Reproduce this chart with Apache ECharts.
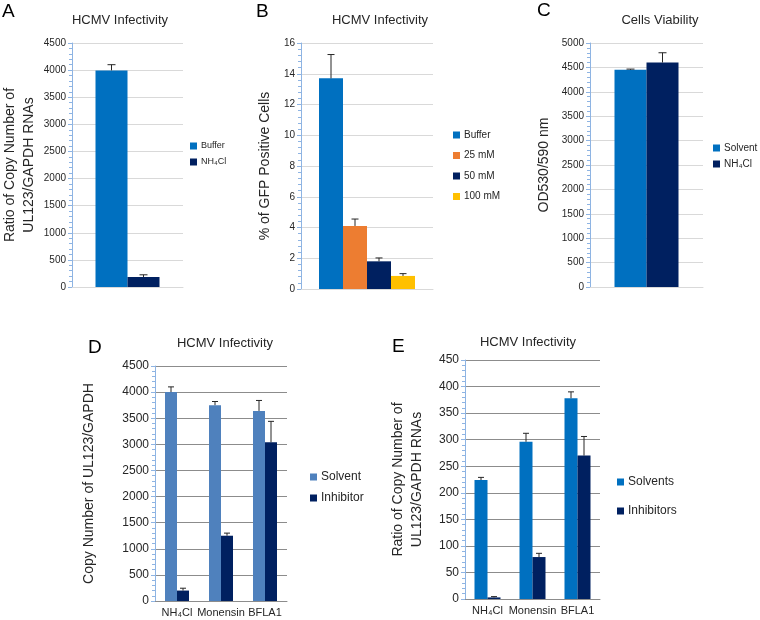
<!DOCTYPE html>
<html><head><meta charset="utf-8">
<script src="https://cdn.jsdelivr.net/npm/echarts@6/dist/echarts.min.js"></script>
<style>html,body{margin:0;padding:0;background:#fff}#c{width:760px;height:620px}</style>
</head><body><div id="c"></div>
<script>
// ---- data ----
const catsSingle = [''];
const aBuffer = [3995], aBufferErr = [105];
const aNH4 = [185], aNH4Err = [40];
const bBuffer = [13.7], bBufferErr = [1.55];
const b25 = [4.1], b25Err = [0.45];
const b50 = [1.8], b50Err = [0.22];
const b100 = [0.85], b100Err = [0.15];
const cSolvent = [4450], cSolventErr = [15];
const cNH4 = [4600], cNH4Err = [200];
const dCats = ['NH₄Cl', 'Monensin', 'BFLA1'];
const dSolvent = [4000, 3750, 3640], dSolventErr = [100, 70, 200];
const dInhib = [200, 1250, 3040], dInhibErr = [45, 50, 400];
const eCats = ['NH₄Cl', 'Monensin', 'BFLA1'];
const eSolvents = [224, 296, 378], eSolventsErr = [5, 16, 12];
const eInhib = [3, 79, 270], eInhibErr = [1.5, 7, 36];

// ---- styling ----
const FONT = '"Liberation Sans", Arial, sans-serif';
const BLUE = '#0070C0', NAVY = '#002060', ORANGE = '#ED7D31', YELLOW = '#FFC000', STEEL = '#4F81BD';

function errData(vals, errs) { return vals.map((v, i) => [i, v, errs[i]]); }
function errRender(offset, cap) {
  return function (params, api) {
    const c = api.value(0), v = api.value(1), e = api.value(2);
    const p0 = api.coord([c, v]);
    const p1 = api.coord([c, v + e]);
    const x = p0[0] + offset;
    const st = { stroke: '#262626', lineWidth: 1 };
    return { type: 'group', children: [
      { type: 'line', shape: { x1: x, y1: p0[1], x2: x, y2: p1[1] }, style: st },
      { type: 'line', shape: { x1: x - cap / 2, y1: p1[1], x2: x + cap / 2, y2: p1[1] }, style: st }
    ]};
  };
}
function errSeries(name, idx, vals, errs, offset, cap) {
  return { type: 'custom', name: name, xAxisIndex: idx, yAxisIndex: idx, z: 5, silent: true,
    renderItem: errRender(offset, cap), data: errData(vals, errs) };
}
function barSeries(name, idx, vals, color, w) {
  return { type: 'bar', name: name, xAxisIndex: idx, yAxisIndex: idx, data: vals, barWidth: w, barGap: '0%',
    itemStyle: { color: color } };
}
function yAx(idx, max, interval, name, nameGap, fs, nfs, splitColor) {
  return { type: 'value', gridIndex: idx, min: 0, max: max, interval: interval,
    name: name, nameLocation: 'middle', nameGap: nameGap,
    nameTextStyle: { fontFamily: FONT, fontSize: nfs, color: '#262626', lineHeight: nfs + 5 },
    axisLine: { show: true, lineStyle: { color: '#8EB4E3' } },
    axisTick: { show: true, length: 4, lineStyle: { color: '#8EB4E3' } },
    minorTick: { show: true, splitNumber: 5, length: 3, lineStyle: { color: '#8EB4E3' } },
    axisLabel: { fontFamily: FONT, fontSize: fs, color: '#262626', margin: 6, formatter: v => String(v) },
    splitLine: { show: true, lineStyle: { color: splitColor } } };
}
function xAx(idx, data, lineColor, showLabel) {
  return { type: 'category', gridIndex: idx, data: data,
    axisLine: { show: true, lineStyle: { color: lineColor } },
    axisTick: { show: false },
    axisLabel: { show: showLabel, interval: 0, fontFamily: FONT, fontSize: 11, color: '#262626', margin: 6 } };
}
function legend(left, top, items, fs, lh, gap) {
  return { orient: 'vertical', left: left, top: top, itemWidth: 7, itemHeight: 7, itemGap: gap,
    padding: 0, icon: 'rect', selectedMode: false,
    textStyle: { fontFamily: FONT, fontSize: fs, color: '#262626', lineHeight: lh, padding: [0, 0, 0, -1] },
    data: items.map(it => ({ name: it[0], itemStyle: { color: it[1] } })) };
}
function title(text, x, y, fs) {
  return { text: text, left: x, top: y, textAlign: 'center', padding: 0,
    textStyle: { fontFamily: FONT, fontSize: fs, fontWeight: 'normal', color: '#262626' } };
}
function letter(text, x, y) {
  return { text: text, left: x, top: y, padding: 0,
    textStyle: { fontFamily: FONT, fontSize: 19, fontWeight: 'normal', color: '#000' } };
}

const chart = echarts.init(document.getElementById('c'), null, { renderer: 'canvas' });
chart.setOption({
  animation: false,
  backgroundColor: '#fff',
  title: [
    letter('A', 2, 2), letter('B', 256, 2), letter('C', 537, 1), letter('D', 88, 338), letter('E', 392, 337),
    title('HCMV Infectivity', 120, 14, 13), title('HCMV Infectivity', 380, 14, 13), title('Cells Viability', 660, 14, 13),
    title('HCMV Infectivity', 225, 337, 13), title('HCMV Infectivity', 528, 336, 13)
  ],
  legend: [
    legend(190, 140, [['Buffer', BLUE], ['NH₄Cl', NAVY]], 9, 12, 4),
    legend(453, 129, [['Buffer', BLUE], ['25 mM', ORANGE], ['50 mM', NAVY], ['100 mM', YELLOW]], 10, 12, 8.5),
    legend(713, 142, [['Solvent', BLUE], ['NH₄Cl', NAVY]], 10, 12, 4),
    legend(310, 470, [['Solvent', STEEL], ['Inhibitor', NAVY]], 12, 14, 7),
    legend(617, 475, [['Solvents', BLUE], ['Inhibitors', NAVY]], 12, 14, 15)
  ],
  grid: [
    { left: 69, top: 43, width: 114, height: 244 },
    { left: 301, top: 43, width: 132, height: 246 },
    { left: 590, top: 43, width: 113, height: 244 },
    { left: 155, top: 366, width: 132, height: 235 },
    { left: 465, top: 360, width: 135, height: 239 }
  ],
  xAxis: [
    xAx(0, catsSingle, '#D9D9D9', false),
    xAx(1, catsSingle, '#D9D9D9', false),
    xAx(2, catsSingle, '#D9D9D9', false),
    xAx(3, dCats, '#8C8C8C', true),
    xAx(4, eCats, '#8C8C8C', true)
  ],
  yAxis: [
    yAx(0, 4500, 500, 'Ratio of Copy Number of\nUL123/GAPDH RNAs', 33, 10, 14, '#D9D9D9'),
    yAx(1, 16, 2, '% of GFP Positive Cells', 26, 10, 14, '#D9D9D9'),
    yAx(2, 5000, 500, 'OD530/590 nm', 36, 10, 14, '#D9D9D9'),
    yAx(3, 4500, 500, 'Copy Number of UL123/GAPDH', 56, 12, 14, '#8C8C8C'),
    yAx(4, 450, 50, 'Ratio of Copy Number of\nUL123/GAPDH RNAs', 38, 12, 14, '#8C8C8C')
  ],
  series: [
    barSeries('Buffer', 0, aBuffer, BLUE, 32), barSeries('NH₄Cl', 0, aNH4, NAVY, 32),
    errSeries('errA1', 0, aBuffer, aBufferErr, -16, 8), errSeries('errA2', 0, aNH4, aNH4Err, 16, 8),

    barSeries('Buffer', 1, bBuffer, BLUE, 24), barSeries('25 mM', 1, b25, ORANGE, 24),
    barSeries('50 mM', 1, b50, NAVY, 24), barSeries('100 mM', 1, b100, YELLOW, 24),
    errSeries('errB1', 1, bBuffer, bBufferErr, -36, 7), errSeries('errB2', 1, b25, b25Err, -12, 7),
    errSeries('errB3', 1, b50, b50Err, 12, 7), errSeries('errB4', 1, b100, b100Err, 36, 7),

    barSeries('Solvent', 2, cSolvent, BLUE, 32), barSeries('NH₄Cl', 2, cNH4, NAVY, 32),
    errSeries('errC1', 2, cSolvent, cSolventErr, -16, 8), errSeries('errC2', 2, cNH4, cNH4Err, 16, 8),

    barSeries('Solvent', 3, dSolvent, STEEL, 12), barSeries('Inhibitor', 3, dInhib, NAVY, 12),
    errSeries('errD1', 3, dSolvent, dSolventErr, -6, 6), errSeries('errD2', 3, dInhib, dInhibErr, 6, 6),

    barSeries('Solvents', 4, eSolvents, BLUE, 13), barSeries('Inhibitors', 4, eInhib, NAVY, 13),
    errSeries('errE1', 4, eSolvents, eSolventsErr, -6.5, 6), errSeries('errE2', 4, eInhib, eInhibErr, 6.5, 6)
  ]
});
</script></body></html>
